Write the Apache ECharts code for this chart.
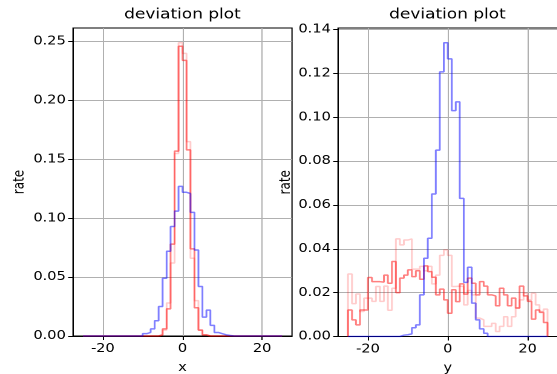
<!DOCTYPE html>
<html><head><meta charset="utf-8">
<script src="https://cdn.jsdelivr.net/npm/echarts@6/dist/echarts.min.js"></script>
<style>
html,body{margin:0;padding:0;background:#fff;overflow:hidden;width:557px;height:374px}
#c{width:460.3px;height:374px;transform:scaleX(1.21);transform-origin:0 0}
</style>
</head><body><div id="c"></div>
<script>
// histogram bins: 50 bins of width 1 starting at -25
const binStart = -25;
const binWidth = 1;
const xTicks = [-20, 0, 20];
const yTicksLeft = [0, 0.05, 0.10, 0.15, 0.20, 0.25];
const yTicksRight = [0, 0.02, 0.04, 0.06, 0.08, 0.10, 0.12, 0.14];
const titles = ['deviation plot', 'deviation plot'];
const xNames = ['x', 'y'];
const yName = 'rate';

// left panel (x deviation)
const leftBlue = [0,0,0,0,0,0,0,0,0,0,0,0,0,0,0,
  0.002,0.003,0.006,0.013,0.025,0.049,0.072,0.093,0.106,0.127,0.122,0.121,0.105,0.073,0.042,0.016,0.022,0.009,0.003,0.002,0.001,0.0004,
  0,0,0,0,0,0,0,0,0,0,0,0,0];
const leftRed = [0,0,0,0,0,0,0,0,0,0,0,0,0,0,0,0,0,0,0,
  0.001,0.006,0.023,0.078,0.157,0.246,0.234,0.158,0.074,0.024,0.005,0.001,
  0,0,0,0,0,0,0,0,0,0,0,0,0,0,0,0,0,0,0];
const leftPink = [0,0,0,0,0,0,0,0,0,0,0,0,0,0,0,0,0,0,0,
  0.001,0.005,0.028,0.062,0.155,0.249,0.240,0.165,0.066,0.030,0.005,0.001,
  0,0,0,0,0,0,0,0,0,0,0,0,0,0,0,0,0,0,0];

// right panel (y deviation)
const rightBlue = [0,0,0,0,0,0,0,0,0,0,0,0,0,
  0.0006,0.0008,0.0012,0.004,0.0053,0.019,0.0357,0.0448,0.065,0.085,0.1207,0.134,0.1266,0.103,0.107,0.063,0.0247,0.0316,0.0152,0.0076,0.0035,0.0015,
  0,0,0,0,0,0,0,0,0,0,0,0,0,0,0];
const rightRed = [0.0121,0.0076,0.0053,0.0121,0.0121,0.0269,0.025,0.025,0.0248,0.028,
  0.0243,0.0342,0.020,0.0266,0.028,0.0304,0.0273,0.030,0.0261,0.0322,
  0.0296,0.027,0.019,0.0216,0.0167,0.0106,0.0213,0.0159,0.024,0.0193,
  0.0266,0.0243,0.019,0.025,0.023,0.019,0.0185,0.014,0.022,0.019,
  0.014,0.0175,0.013,0.023,0.0185,0.016,0.0079,0.0121,0.011,0.0064];
const rightPink = [0.0285,0.015,0.0194,0.0114,0.0175,0.0175,0.016,0.0228,0.016,0.023,
  0.012,0.022,0.0445,0.0418,0.044,0.0445,0.0307,0.0307,0.032,0.030,
  0.032,0.024,0.028,0.037,0.0395,0.037,0.0228,0.023,0.0228,0.0144,
  0.021,0.019,0.0084,0.0076,0.0046,0.0046,0.006,0.0023,0.0046,0.009,
  0.0046,0.009,0.013,0.0167,0.0197,0.0167,0.0197,0.0144,0.0114,0.0125];

function stepPoints(vals) {
  const pts = [[binStart, 0]];
  vals.forEach((v, i) => pts.push([binStart + i * binWidth, v]));
  const end = binStart + vals.length * binWidth;
  pts.push([end, vals[vals.length - 1]]);
  pts.push([end, 0]);
  return pts;
}

const FONT = 'DejaVu Sans';
const GRID = '#b0b0b0';

function xAxisCfg(idx) {
  return {
    type: 'value', gridIndex: idx, min: -27.5, max: 27.5,
    name: xNames[idx], nameLocation: 'middle', nameGap: 26,
    nameTextStyle: {color: '#000', fontFamily: FONT, fontSize: 12},
    axisLine: {show: true, onZero: false, lineStyle: {color: '#000', width: 1}},
    axisTick: {show: true, customValues: xTicks, length: 4, lineStyle: {color: '#000'}},
    axisLabel: {customValues: xTicks, color: '#000', fontFamily: FONT, fontSize: 12, margin: 7},
    splitLine: {show: true, lineStyle: {color: GRID, width: 1}}
  };
}
function yAxisCfg(idx, max, interval, ticks, gap) {
  return {
    type: 'value', gridIndex: idx, min: 0, max: max, interval: interval,
    name: yName, nameLocation: 'middle', nameGap: gap,
    nameTextStyle: {color: '#000', fontFamily: FONT, fontSize: 12},
    axisLine: {show: true, onZero: false, lineStyle: {color: '#000', width: 1}},
    axisTick: {show: true, customValues: ticks, length: 4, lineStyle: {color: '#000'}},
    axisLabel: {customValues: ticks, color: '#000', fontFamily: FONT, fontSize: 12, margin: 6,
      formatter: v => v.toFixed(2)},
    splitLine: {show: true, lineStyle: {color: GRID, width: 1}}
  };
}
function ser(vals, color, op, xi) {
  return {
    type: 'line', xAxisIndex: xi, yAxisIndex: xi, data: stepPoints(vals), step: 'end',
    showSymbol: false, symbol: 'none', silent: true,
    lineStyle: {color: color, width: 1.5, opacity: op}, itemStyle: {color: color}
  };
}

const chart = echarts.init(document.getElementById('c'), null, {renderer: 'canvas', devicePixelRatio: 2});
chart.setOption({
  animation: false,
  backgroundColor: '#fff',
  grid: [
    {left: 60.33, top: 28, width: 181, height: 308, show: true, borderColor: '#000', borderWidth: 1,
     backgroundColor: 'transparent', containLabel: false, outerBoundsMode: 'none'},
    {left: 279.34, top: 28, width: 181.4, height: 308.5, show: true, borderColor: '#000', borderWidth: 1,
     backgroundColor: 'transparent', containLabel: false, outerBoundsMode: 'none'}
  ],
  xAxis: [xAxisCfg(0), xAxisCfg(1)],
  yAxis: [yAxisCfg(0, 0.2615, 0.05, yTicksLeft, 38), yAxisCfg(1, 0.1407, 0.02, yTicksRight, 37)],
  graphic: [
    {type: 'text', x: 150.8, y: 8, style: {text: titles[0], fill: '#000', font: '14px "DejaVu Sans"', textAlign: 'center'}},
    {type: 'text', x: 369.8, y: 8, style: {text: titles[1], fill: '#000', font: '14px "DejaVu Sans"', textAlign: 'center'}}
  ],
  series: [
    ser(leftPink, '#ff0000', 0.2, 0),
    ser(leftRed, '#ff0000', 0.5, 0),
    ser(leftBlue, '#0000ff', 0.5, 0),
    ser(rightPink, '#ff0000', 0.2, 1),
    ser(rightRed, '#ff0000', 0.5, 1),
    ser(rightBlue, '#0000ff', 0.5, 1)
  ]
});
</script></body></html>
